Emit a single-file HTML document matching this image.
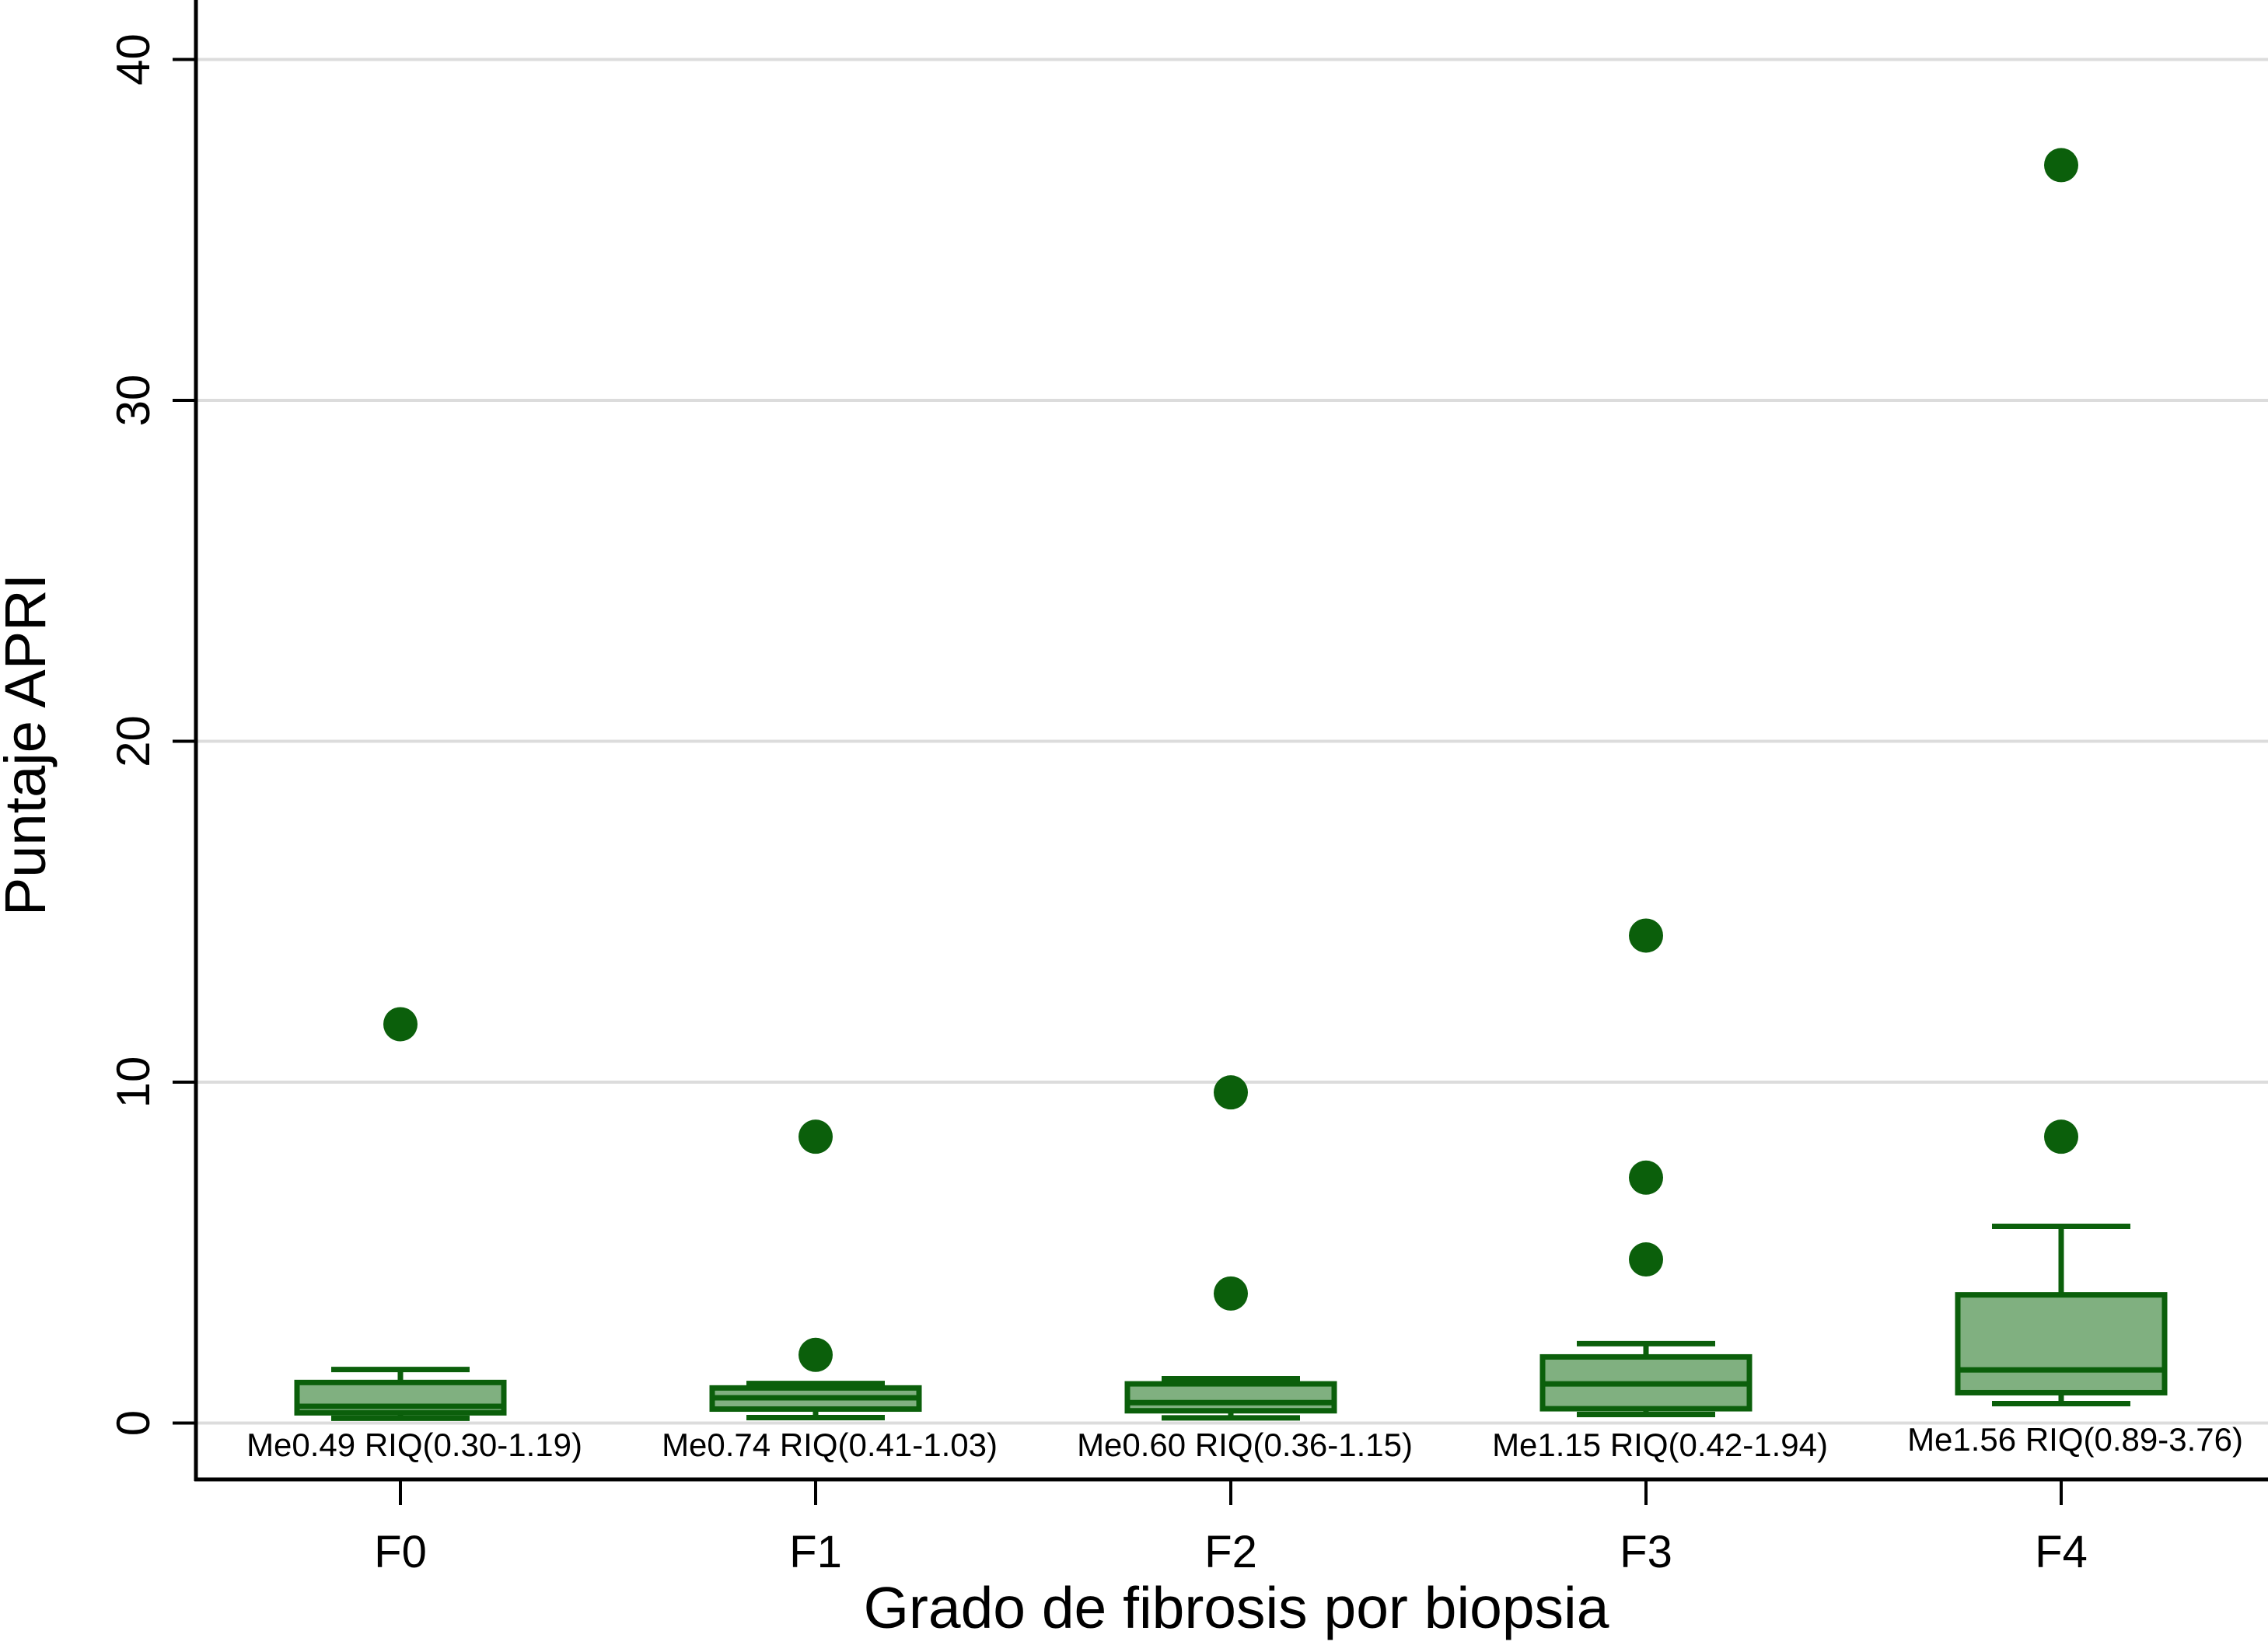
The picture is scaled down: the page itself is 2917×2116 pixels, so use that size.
<!DOCTYPE html>
<html><head><meta charset="utf-8"><style>
html,body{margin:0;padding:0;background:#fff;}
svg{display:block;}
text{font-family:"Liberation Sans",Arial,sans-serif;fill:#000;}
</style></head><body>
<svg id="chart" width="2917" height="2116" viewBox="0 0 2917 2116" xmlns="http://www.w3.org/2000/svg">
<g id="grid"></g><g id="axes"></g><g id="marks"></g>
</svg>
<script>
const categories = ["F0","F1","F2","F3","F4"];
const q1 = [0.30,0.41,0.36,0.42,0.89];
const medians = [0.49,0.74,0.60,1.15,1.56];
const q3 = [1.19,1.03,1.15,1.94,3.76];
const whiskLow = [0.14,0.16,0.15,0.25,0.57];
const whiskHigh = [1.57,1.16,1.30,2.33,5.77];
const outliers = [[11.7],[8.4,2.0],[9.7,3.8],[14.3,7.2,4.8],[36.9,8.4]];
const boxLabels = ["Me0.49 RIQ(0.30-1.19)","Me0.74 RIQ(0.41-1.03)","Me0.60 RIQ(0.36-1.15)","Me1.15 RIQ(0.42-1.94)","Me1.56 RIQ(0.89-3.76)"];
const yTicks = [0,10,20,30,40];

const NS="http://www.w3.org/2000/svg";
const y0px=1830.5, pxPerUnit=43.85;
function yS(v){return y0px - v*pxPerUnit;}
function xS(i){return 515 + i*534;}
function mk(tag,attrs,parent){const e=document.createElementNS(NS,tag);for(const k in attrs)e.setAttribute(k,attrs[k]);parent.appendChild(e);return e;}
const grid=document.getElementById('grid'),axes=document.getElementById('axes'),marks=document.getElementById('marks');
const GREEN="#0b5f0b", FILL="#80b080";

yTicks.forEach(t=>{
  const g=mk('line',{x1:252,x2:2917,y1:yS(t),y2:yS(t),stroke:'#dcdcdc','stroke-width':4},grid);
  
  
  const tk=mk('line',{x1:222,x2:252,y1:yS(t),y2:yS(t),stroke:'#000','stroke-width':4},axes);
  
  
  const tx=mk('text',{x:0,y:0,'font-size':60,'text-anchor':'middle',transform:`translate(192,${yS(t)}) rotate(-90)`},axes);
  tx.textContent=t;
  
  
});
let a=mk('line',{x1:252,x2:252,y1:0,y2:1905,stroke:'#000','stroke-width':5},axes);


a=mk('line',{x1:250,x2:2917,y1:1903,y2:1903,stroke:'#000','stroke-width':5},axes);


let t=mk('text',{x:0,y:0,'font-size':74,'text-anchor':'middle',transform:'translate(58,958) rotate(-90)'},axes);
t.textContent='Puntaje APRI';


t=mk('text',{x:1590,y:2094,'font-size':75,'text-anchor':'middle'},axes);
t.textContent='Grado de fibrosis por biopsia';



categories.forEach((c,i)=>{
  const x=xS(i);
  const tk=mk('line',{x1:x,x2:x,y1:1903,y2:1936,stroke:'#000','stroke-width':4},axes);
  
  
  const lb=mk('text',{x:x,y:2016,'font-size':58,'text-anchor':'middle'},axes);
  lb.textContent=c;
  
  
  const g=mk('g',{},marks);
  
  
  const w1=mk('line',{x1:x,x2:x,y1:yS(whiskHigh[i]),y2:yS(q3[i]),stroke:GREEN,'stroke-width':7},g);
  
  
  const w2=mk('line',{x1:x,x2:x,y1:yS(q1[i]),y2:yS(whiskLow[i]),stroke:GREEN,'stroke-width':7},g);
  
  
  const c1=mk('line',{x1:x-89,x2:x+89,y1:yS(whiskHigh[i]),y2:yS(whiskHigh[i]),stroke:GREEN,'stroke-width':7},g);
  
  
  const c2=mk('line',{x1:x-89,x2:x+89,y1:yS(whiskLow[i]),y2:yS(whiskLow[i]),stroke:GREEN,'stroke-width':7},g);
  
  
  const r=mk('rect',{x:x-133,y:yS(q3[i]),width:266,height:yS(q1[i])-yS(q3[i]),fill:FILL,stroke:GREEN,'stroke-width':7},g);
  
  
  const m=mk('line',{x1:x-133,x2:x+133,y1:yS(medians[i]),y2:yS(medians[i]),stroke:GREEN,'stroke-width':7},g);
  
  
  outliers[i].forEach((v,k)=>{
    const p=mk('circle',{cx:x,cy:yS(v),r:22,fill:GREEN},g);
    
    
  });
  const bl=mk('text',{x:x+18,y:i===4?1866:1873,'font-size':42,'text-anchor':'middle'},g);
  bl.textContent=boxLabels[i];
  
  
});
</script>
</body></html>
